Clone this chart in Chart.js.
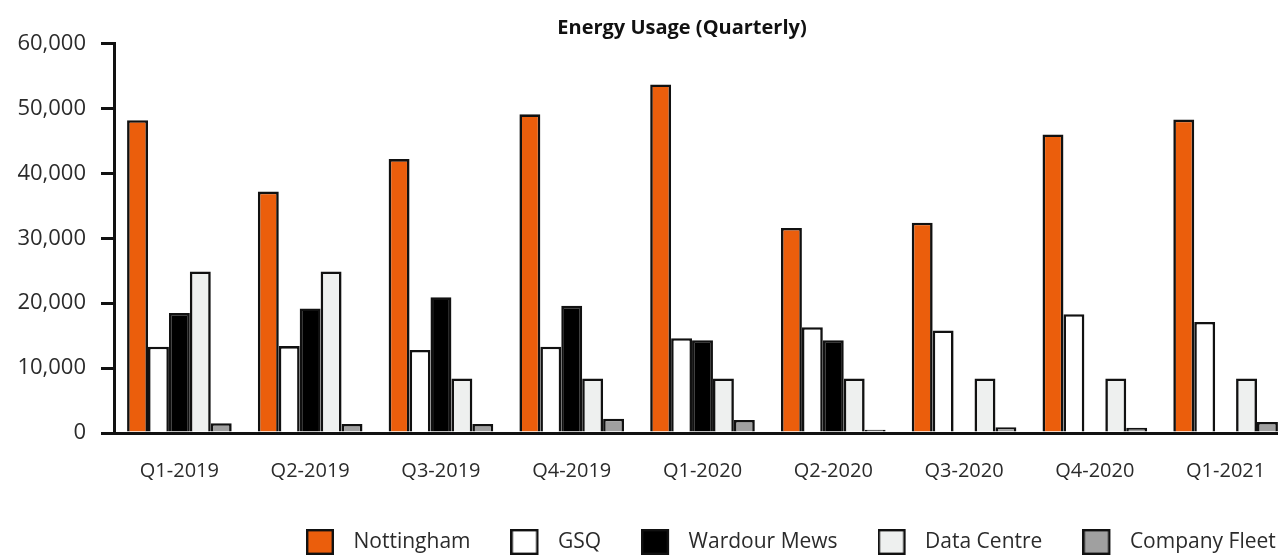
<!DOCTYPE html>
<html>
<head>
<meta charset="utf-8">
<script src="https://cdn.jsdelivr.net/npm/chart.js@4/dist/chart.umd.min.js"></script>
<style>
  html, body { margin: 0; padding: 0; background: #fff; overflow: hidden; }
  #wrap { position: relative; width: 1364px; height: 556px; }
</style>
</head>
<body>
<div id="wrap"><canvas id="c"></canvas></div>
<script>
const categories = ['Q1-2019','Q2-2019','Q3-2019','Q4-2019','Q1-2020','Q2-2020','Q3-2020','Q4-2020','Q1-2021'];
const nottingham = [48200, 37200, 42200, 49100, 53700, 31600, 32400, 46000, 48300];
const gsq        = [13300, 13400, 12800, 13300, 14600, 16300, 15800, 18300, 17100];
const wardour    = [18500, 19200, 20900, 19600, 14300, 14300, null, null, null];
const dataCentre = [24900, 24900, 8400, 8400, 8400, 8400, 8400, 8400, 8400];
const fleet      = [1500, 1400, 1400, 2200, 2000, 500, 900, 800, 1700];
const yTicks     = [0, 10000, 20000, 30000, 40000, 50000, 60000];

const FONT = '"Open Sans", Lato, sans-serif';
const TEXT = '#2b2b2b';
const LEGEND_PAD = 40;

function ds(label, data, color) {
  return { label, data, backgroundColor: color, borderColor: '#111', borderWidth: 2.6,
           categoryPercentage: 0.8, barPercentage: 1.0 };
}

// legend swatch: 28x26 box plus a transparent gap before the text
function swatch(fill) {
  const c = document.createElement('canvas');
  c.width = 37; c.height = 26;
  const g = c.getContext('2d');
  g.fillStyle = fill;
  g.fillRect(1, 1, 26, 24);
  g.strokeStyle = '#111';
  g.lineWidth = 2.4;
  g.strokeRect(1.2, 1.2, 25.6, 23.6);
  return c;
}

// place title and legend strip where the original has them
const placeBoxes = {
  id: 'placeBoxes',
  afterLayout(chart) {
    const t = chart.titleBlock;
    if (t) { const w = t.right - t.left; t.left = 682 - w / 2; t.right = 682 + w / 2; }
    const lg = chart.legend;
    if (lg) {
      lg.left = 306 - LEGEND_PAD;
      lg.right = lg.left + 1300;
      lg.top = 531.5 - LEGEND_PAD;
      lg.bottom = 620;
      lg.width = lg.right - lg.left;
      lg.height = lg.bottom - lg.top;
    }
  }
};

new Chart(document.getElementById('c'), {
  type: 'bar',
  data: {
    labels: categories,
    datasets: [
      ds('Nottingham', nottingham, '#EB5E0C'),
      ds('GSQ', gsq, '#FFFFFF'),
      ds('Wardour Mews', wardour, '#000000'),
      ds('Data Centre', dataCentre, '#EEF0EF'),
      ds('Company Fleet', fleet, '#A0A0A0')
    ]
  },
  options: {
    responsive: true,
    maintainAspectRatio: false,
    animation: false,
    devicePixelRatio: 1,
    layout: { padding: { left: 0, right: 73, top: 0, bottom: 54 } },
    plugins: {
      tooltip: { enabled: false },
      title: {
        display: true,
        text: 'Energy Usage (Quarterly)',
        color: '#111',
        font: { family: FONT, size: 20, weight: 'bold' },
        padding: { top: 16, bottom: 3.6 }
      },
      legend: {
        position: 'bottom',
        align: 'start',
        maxHeight: 1,
        labels: {
          color: TEXT,
          font: { family: FONT, size: 21 },
          usePointStyle: true,
          pointStyleWidth: 37,
          boxHeight: 26,
          padding: LEGEND_PAD,
          generateLabels(chart) {
            const items = Chart.defaults.plugins.legend.labels.generateLabels(chart);
            items.forEach(it => { it.pointStyle = swatch(chart.data.datasets[it.datasetIndex].backgroundColor); });
            return items;
          }
        }
      }
    },
    scales: {
      x: {
        grid: { display: false },
        border: { display: true, color: '#111', width: 3 },
        ticks: { color: TEXT, font: { family: FONT, size: 20 }, padding: 18, maxRotation: 0 }
      },
      y: {
        min: 0, max: 60000,
        afterFit(scale) { scale.width = 114; },
        afterBuildTicks(scale) { scale.ticks = yTicks.map(v => ({ value: v })); },
        grid: { drawOnChartArea: false, drawTicks: true, tickLength: 13, color: '#111', lineWidth: 3 },
        border: { display: true, color: '#111', width: 3 },
        ticks: {
          color: TEXT, font: { family: FONT, size: 22 }, padding: 15,
          callback: v => v.toLocaleString('en-US')
        }
      }
    }
  },
  plugins: [placeBoxes]
});
</script>
</body>
</html>
